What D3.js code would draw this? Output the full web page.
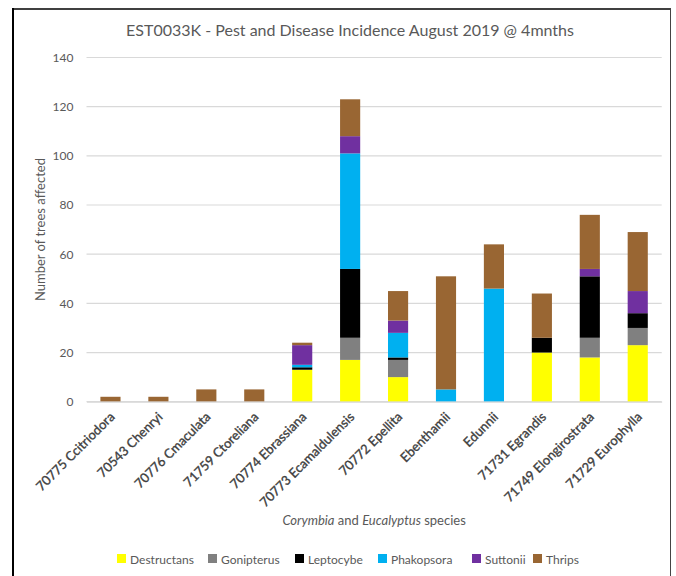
<!DOCTYPE html>
<html>
<head>
<meta charset="utf-8">
<script src="https://cdn.jsdelivr.net/npm/d3@7"></script>
<style>
  html, body { margin: 0; padding: 0; background: #fff; }
  svg { display: block; }
  text { font-family: Lato, "Open Sans", sans-serif; }
</style>
</head>
<body>
<svg id="chart" width="676" height="576"></svg>
<script>
const categories = ["70775 Ccitriodora","70543 Chenryi","70776 Cmaculata","71759 Ctoreliana","70774 Ebrassiana","70773 Ecamaldulensis","70772 Epellita","Ebenthamii","Edunnii","71731 Egrandis","71749 Elongirostrata","71729 Europhylla"];
const seriesNames = ["Destructans","Gonipterus","Leptocybe","Phakopsora","Suttonii","Thrips"];
const destructans = [0,0,0,0,13,17,10,0,0,20,18,23];
const gonipterus  = [0,0,0,0,0,9,7,0,0,0,8,7];
const leptocybe   = [0,0,0,0,1,28,1,0,0,6,25,6];
const phakopsora  = [0,0,0,0,1,47,10,5,46,0,0,0];
const suttonii    = [0,0,0,0,8,7,5,0,0,0,3,9];
const thrips      = [2,2,5,5,1,15,12,46,18,18,22,24];
const yTicks = [0,20,40,60,80,100,120,140];
const colors = ["#FFFF00","#808080","#000000","#00B0F0","#7030A0","#996633"];

const seriesValues = [destructans,gonipterus,leptocybe,phakopsora,suttonii,thrips];
const rows = categories.map((c,i) => {
  const r = {cat: c};
  seriesNames.forEach((s,j) => r[s] = seriesValues[j][i]);
  return r;
});

const svg = d3.select("#chart");
const pLeft = 86.5, pRight = 661.7, pTop = 57.5, pBottom = 401.7;

// frame
svg.append("line").attr("x1",13).attr("x2",13).attr("y1",8).attr("y2",576).attr("stroke","#000").attr("stroke-width",2);
svg.append("line").attr("x1",12).attr("x2",671).attr("y1",9).attr("y2",9).attr("stroke","#000").attr("stroke-width",1.5);
svg.append("line").attr("x1",670.5).attr("x2",670.5).attr("y1",8).attr("y2",576).attr("stroke","#444").attr("stroke-width",1);

const x = d3.scaleBand().domain(categories).range([pLeft,pRight]).paddingInner(0.58).paddingOuter(0.29);
const y = d3.scaleLinear().domain([0,140]).range([pBottom,pTop]);

// gridlines
svg.append("g").selectAll("line").data(yTicks).join("line")
  .attr("x1",pLeft).attr("x2",pRight)
  .attr("y1",d=>y(d)).attr("y2",d=>y(d))
  .attr("stroke","#D9D9D9").attr("stroke-width",1.2);

// y axis labels
const yAxis = d3.axisLeft(y).tickValues(yTicks).tickSize(0).tickPadding(0);
const yg = svg.append("g").attr("transform",`translate(${pLeft-13},0)`).call(yAxis);
yg.select(".domain").remove();
yg.selectAll("text").attr("fill","#595959").style("font-size","12px").style("font-family","Lato, 'Open Sans', sans-serif");

// bars
const stack = d3.stack().keys(seriesNames);
const stacked = stack(rows);
svg.append("g").selectAll("g").data(stacked).join("g")
  .attr("fill",(d,i)=>colors[i])
  .selectAll("rect").data(d=>d).join("rect")
  .attr("x",d=>x(d.data.cat))
  .attr("width",x.bandwidth())
  .attr("y",d=>y(d[1]))
  .attr("height",d=>Math.max(0,y(d[0])-y(d[1])));

// x axis
const xAxis = d3.axisBottom(x).tickSize(0).tickPadding(0);
const xg = svg.append("g").attr("transform",`translate(0,${pBottom})`).call(xAxis);
xg.select(".domain").attr("stroke","#D9D9D9").attr("stroke-width",1.2);
xg.selectAll("text")
  .attr("fill","#404040").attr("stroke","#404040").attr("stroke-width",0.35)
  .style("font-size","13px").style("font-family","Lato, 'Open Sans', sans-serif")
  .attr("text-anchor","end")
  .attr("dy","0")
  .attr("transform","translate(5,16) rotate(-45)");

// title
svg.append("text").attr("x",350).attr("y",36).attr("text-anchor","middle")
  .attr("fill","#595959").style("font-size","16px")
  .text("EST0033K - Pest and Disease Incidence August 2019 @ 4mnths");

// y title
svg.append("text").attr("transform",`translate(45,${(pTop+pBottom)/2}) rotate(-90)`)
  .attr("text-anchor","middle").attr("fill","#595959").style("font-size","13px")
  .text("Number of trees affected");

// x title
const xt = svg.append("text").attr("x",(pLeft+pRight)/2).attr("y",525).attr("text-anchor","middle")
  .attr("fill","#595959").style("font-size","13px");
xt.append("tspan").style("font-style","italic").text("Corymbia");
xt.append("tspan").text(" and ");
xt.append("tspan").style("font-style","italic").text("Eucalyptus");
xt.append("tspan").text(" species");

// legend
const legendX = [117,208,295,378,472,533];
const lg = svg.append("g").selectAll("g").data(seriesNames).join("g")
  .attr("transform",(d,i)=>`translate(${legendX[i]},559)`);
lg.append("rect").attr("x",0).attr("y",-5).attr("width",9).attr("height",9).attr("fill",(d,i)=>colors[i]);
lg.append("text").attr("x",13).attr("y",4.5).attr("fill","#595959").style("font-size","12px").text(d=>d);
</script>
</body>
</html>
